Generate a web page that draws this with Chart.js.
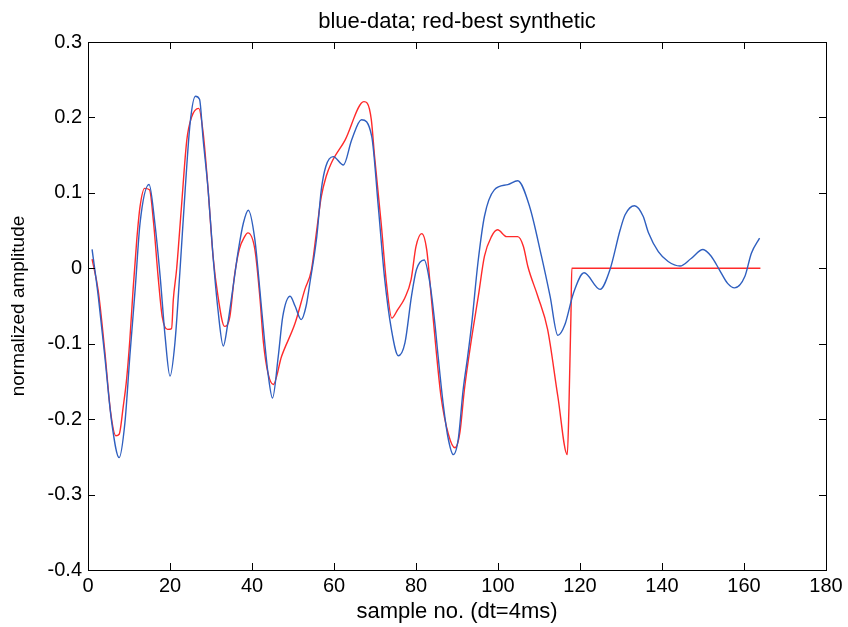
<!DOCTYPE html>
<html>
<head>
<meta charset="utf-8">
<script src="https://cdn.jsdelivr.net/npm/chart.js@4.4.1/dist/chart.umd.min.js"></script>
<style>
  html, body { margin: 0; padding: 0; background: #fff; }
  #wrap { width: 848px; height: 627px; }
</style>
</head>
<body>
<div id="wrap"><canvas id="traceChart" width="848" height="627"></canvas></div>
<script>
// sample numbers and amplitudes
const blueX = [1, 2.5, 4.1, 5.8, 7.6, 9, 10.2, 11.5, 12.7, 14.9, 16.3, 17.6, 18.8, 20, 21.2, 22.4, 23.7, 24.9, 26.2, 27.2,
  28.1, 29.3, 30.5, 31.7, 33, 34.1, 35.3, 36.7, 37.9, 39.1, 40.7, 41.9, 42.8, 43.9, 45, 46.4, 47.5, 49.3, 50.5, 52,
  53.2, 54.1, 55.8, 56.9, 58, 59.8, 62.3, 64.3, 66.7, 69.2, 70.8, 72.3, 74, 75.7, 77.3, 78.9, 80.1, 82, 83.4, 84.6,
  85.4, 86.7, 87.9, 89.1, 90.3, 91.5, 92.6, 93.6, 95.1, 96.7, 99.1, 102.4, 104.8, 107.7, 110.6, 112.7, 114.6, 116.3, 118.4, 121,
  124.9, 127.3, 129.8, 131, 133.3, 135.4, 136.7, 139.1, 141.5, 144.4, 147.1, 150, 152, 154, 156, 157.7, 160.2, 161.8, 163.8];
const blueY = [0.025, -0.037, -0.117, -0.205, -0.251, -0.205, -0.117, -0.028, 0.06, 0.111, 0.06, -0.011, -0.09, -0.143, -0.099, -0.006, 0.104, 0.192, 0.228, 0.224,
  0.17, 0.104, 0.016, -0.055, -0.103, -0.073, -0.028, 0.025, 0.06, 0.077, 0.038, -0.028, -0.081, -0.139, -0.172, -0.117, -0.064, -0.037, -0.05, -0.068,
  -0.05, -0.02, 0.042, 0.104, 0.135, 0.148, 0.137, 0.17, 0.197, 0.175, 0.082, -0.011, -0.081, -0.116, -0.099, -0.037, -0.002, 0.011, -0.02, -0.073,
  -0.117, -0.183, -0.227, -0.247, -0.227, -0.161, -0.117, -0.073, 0.007, 0.069, 0.104, 0.111, 0.116, 0.082, 0.016, -0.037, -0.089, -0.075, -0.033, -0.006,
  -0.028, -0.002, 0.051, 0.071, 0.083, 0.069, 0.047, 0.022, 0.009, 0.003, 0.013, 0.025, 0.016, -0.002, -0.02, -0.026, -0.011, 0.02, 0.04];

const redX = [1, 2.5, 4.1, 5.5, 6.8, 7.6, 8.6, 9.4, 10.2, 11, 11.9, 12.7, 13.8, 15, 16, 17.1, 18.1, 19.4, 20.4, 20.8,
  21.6, 22.8, 24.1, 25.3, 27, 28.1, 29.3, 30.5, 31.7, 33.3, 34.6, 35.7, 36.9, 38.2, 39, 40.7, 41.9, 42.8, 43.9, 45.2,
  47.2, 50.5, 52.9, 54.5, 55.7, 56.9, 58.1, 59.3, 62.7, 67.3, 68.1, 69.1, 69.9, 71.5, 72.8, 74.1, 75.5, 77.3, 78.8, 80,
  81.4, 82.6, 83.7, 84.9, 86.1, 87.9, 89.5, 90.7, 91.8, 93.5, 95.2, 96.7, 98.4, 99.9, 102.1, 104.8, 106.2, 107.3, 109.7, 112.1,
  114.6, 116.9, 117.3, 117.8, 118, 164];
const redY = [0.012, -0.03, -0.11, -0.19, -0.222, -0.22, -0.183, -0.148, -0.095, -0.028, 0.038, 0.082, 0.106, 0.104, 0.06, -0.011, -0.064, -0.081, -0.08, -0.042,
  -0.002, 0.082, 0.17, 0.201, 0.212, 0.179, 0.104, 0.016, -0.037, -0.077, -0.064, -0.011, 0.025, 0.042, 0.047, 0.025, -0.037, -0.099, -0.139, -0.154,
  -0.117, -0.073, -0.028, -0.002, 0.047, 0.095, 0.122, 0.139, 0.17, 0.221, 0.219, 0.197, 0.148, 0.06, -0.02, -0.066, -0.055, -0.039, -0.015, 0.029,
  0.046, 0.025, -0.037, -0.108, -0.17, -0.22, -0.238, -0.218, -0.161, -0.095, -0.037, 0.016, 0.042, 0.051, 0.042, 0.042, 0.029, 0.002, -0.037, -0.081,
  -0.17, -0.247, -0.185, -0.06, 0, 0];

const xTicks = [0, 20, 40, 60, 80, 100, 120, 140, 160, 180];
const yTicks = [-0.4, -0.3, -0.2, -0.1, 0, 0.1, 0.2, 0.3];
const chartTitle = 'blue-data; red-best synthetic';

const fontFamily = '"Liberation Sans", Arial, Helvetica, sans-serif';

function toPoints(xs, ys) {
  return xs.map((x, i) => ({ x: x, y: ys[i] }));
}

// matlab style box with inward tick marks on all four sides, title centred over the axes
const boxTicks = {
  id: 'boxTicks',
  afterDraw(chart) {
    const ctx = chart.ctx;
    const a = chart.chartArea;
    const xs = chart.scales.x;
    const ys = chart.scales.y;
    const len = 7;
    ctx.save();
    ctx.strokeStyle = '#000';
    ctx.lineWidth = 1;
    ctx.strokeRect(Math.round(a.left) + 0.5, Math.round(a.top) + 0.5,
      Math.round(a.right - a.left), Math.round(a.bottom - a.top));
    ctx.beginPath();
    xTicks.forEach(v => {
      const px = Math.round(xs.getPixelForValue(v)) + 0.5;
      ctx.moveTo(px, a.bottom); ctx.lineTo(px, a.bottom - len);
      ctx.moveTo(px, a.top); ctx.lineTo(px, a.top + len);
    });
    yTicks.forEach(v => {
      const py = Math.round(ys.getPixelForValue(v)) + 0.5;
      ctx.moveTo(a.left, py); ctx.lineTo(a.left + len, py);
      ctx.moveTo(a.right, py); ctx.lineTo(a.right - len, py);
    });
    ctx.stroke();

    ctx.fillStyle = '#000';
    ctx.font = '22px ' + fontFamily;
    ctx.textAlign = 'center';
    ctx.textBaseline = 'alphabetic';
    ctx.fillText(chartTitle, (a.left + a.right) / 2, a.top - 14);
    ctx.restore();
  }
};

const ctx = document.getElementById('traceChart').getContext('2d');
new Chart(ctx, {
  type: 'line',
  data: {
    datasets: [
      {
        label: 'data',
        data: toPoints(blueX, blueY),
        borderColor: '#2f5fbf',
        borderWidth: 1.4,
        pointRadius: 0,
        fill: false,
        cubicInterpolationMode: 'monotone'
      },
      {
        label: 'best synthetic',
        data: toPoints(redX, redY),
        borderColor: '#ff2a2a',
        borderWidth: 1.4,
        pointRadius: 0,
        fill: false,
        cubicInterpolationMode: 'monotone'
      }
    ]
  },
  options: {
    responsive: false,
    animation: false,
    devicePixelRatio: 1,
    layout: { padding: { left: 0, right: 22, top: 42, bottom: 0 } },
    plugins: {
      legend: { display: false },
      tooltip: { enabled: false },
      title: { display: false }
    },
    scales: {
      x: {
        type: 'linear',
        min: 0,
        max: 180,
        afterFit: s => { s.height = 57; },
        afterBuildTicks: s => { s.ticks = xTicks.map(v => ({ value: v })); },
        grid: { display: false, drawTicks: false },
        border: { display: false },
        ticks: {
          color: '#000',
          padding: 4,
          maxRotation: 0,
          font: { family: fontFamily, size: 20 }
        },
        title: {
          display: true,
          text: 'sample no. (dt=4ms)',
          color: '#000',
          font: { family: fontFamily, size: 22, lineHeight: 1.2 },
          padding: { top: 0, bottom: 1.8 }
        }
      },
      y: {
        type: 'linear',
        min: -0.4,
        max: 0.3,
        afterFit: s => { s.width = 88; },
        afterBuildTicks: s => { s.ticks = yTicks.map(v => ({ value: v })); },
        grid: { display: false, drawTicks: false },
        border: { display: false },
        ticks: {
          color: '#000',
          padding: 6,
          font: { family: fontFamily, size: 20 },
          callback: v => String(Math.round(v * 10) / 10)
        },
        title: {
          display: true,
          text: 'normalized amplitude',
          color: '#000',
          font: { family: fontFamily, size: 19, lineHeight: 1.2 },
          padding: { top: 7, bottom: 0 }
        }
      }
    }
  },
  plugins: [boxTicks]
});
</script>
</body>
</html>
